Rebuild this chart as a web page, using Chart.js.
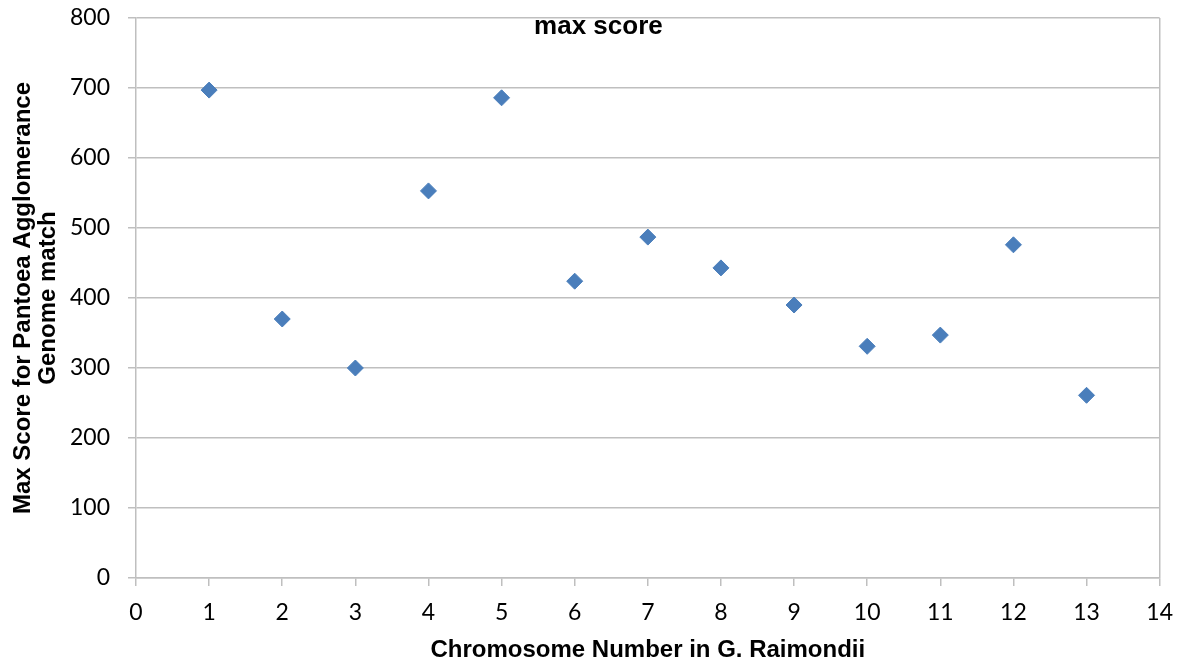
<!DOCTYPE html>
<html>
<head>
<meta charset="utf-8">
<script src="https://cdn.jsdelivr.net/npm/chart.js@4/dist/chart.umd.min.js"></script>
<style>
  html, body { margin: 0; padding: 0; background: #fff; }
  #wrap { width: 1186px; height: 669px; position: relative; }
</style>
</head>
<body>
<div id="wrap"><canvas id="chart"></canvas></div>
<script>
// chromosome numbers and the max score
var chromosomes = [1, 2, 3, 4, 5, 6, 7, 8, 9, 10, 11, 12, 13];
var maxScores = [697, 370, 300, 553, 686, 424, 487, 443, 390, 331, 347, 476, 261];

var chartTitle = 'max score';
var xTitle = 'Chromosome Number in G. Raimondii';
var yTitle = ['Max Score for Pantoea Agglomerance', 'Genome match'];

var gridGray = '#bfbfbf';

// title sits inside the plot area, a bit left of centre
var innerTitle = {
  id: 'innerTitle',
  afterDraw: function(chart) {
    var ctx = chart.ctx;
    var area = chart.chartArea;
    ctx.save();
    ctx.font = 'bold 26px "Liberation Sans", Arial, sans-serif';
    ctx.fillStyle = '#000';
    ctx.textAlign = 'center';
    ctx.textBaseline = 'alphabetic';
    ctx.fillText(chartTitle, area.left + (area.right - area.left) * 0.4517, area.top + 16);
    ctx.restore();
  }
};

var points = [];
for (let i = 0; i < chromosomes.length; i++) {
  points.push({x: chromosomes[i], y: maxScores[i]});
}

var tickFont = {family: 'Lato, "Open Sans", sans-serif', size: 23};
var titleFont = {family: '"Liberation Sans", Arial, sans-serif', size: 24, weight: 'bold', lineHeight: 1.05};

new Chart(document.getElementById('chart'), {
  type: 'scatter',
  data: {
    datasets: [{
      label: chartTitle,
      data: points,
      pointStyle: 'rectRot',
      pointRadius: 8,
      pointHoverRadius: 8,
      backgroundColor: '#4A7EBB',
      borderColor: '#4A7EBB',
      borderWidth: 1
    }]
  },
  options: {
    responsive: true,
    maintainAspectRatio: false,
    animation: false,
    layout: {padding: {top: 18, right: 25, left: 0, bottom: 0}},
    plugins: {
      legend: {display: false},
      tooltip: {enabled: false}
    },
    scales: {
      x: {
        type: 'linear',
        min: 0,
        max: 14,
        afterFit: function(scale) { scale.height = 91; },
        ticks: {stepSize: 1, color: '#000', font: tickFont, padding: 13, maxRotation: 0},
        grid: {
          color: function(c) { return c.tick && c.tick.value === 14 ? gridGray : 'rgba(0,0,0,0)'; },
          tickColor: gridGray,
          tickLength: 8,
          lineWidth: 1.5
        },
        border: {color: gridGray, width: 1.5},
        title: {display: true, text: xTitle, color: '#000', font: titleFont, padding: {top: 0, bottom: 6}}
      },
      y: {
        min: 0,
        max: 800,
        afterFit: function(scale) {
          scale.width = 136;
          scale.paddingTop = 0;
          scale.paddingBottom = 0;
        },
        ticks: {stepSize: 100, color: '#000', font: tickFont, padding: 18},
        grid: {color: gridGray, tickColor: gridGray, tickLength: 8, lineWidth: 1.5},
        border: {color: gridGray, width: 1.5},
        title: {display: true, text: yTitle, color: '#000', font: titleFont, padding: {top: 11, bottom: 0}}
      }
    }
  },
  plugins: [innerTitle]
});
</script>
</body>
</html>
